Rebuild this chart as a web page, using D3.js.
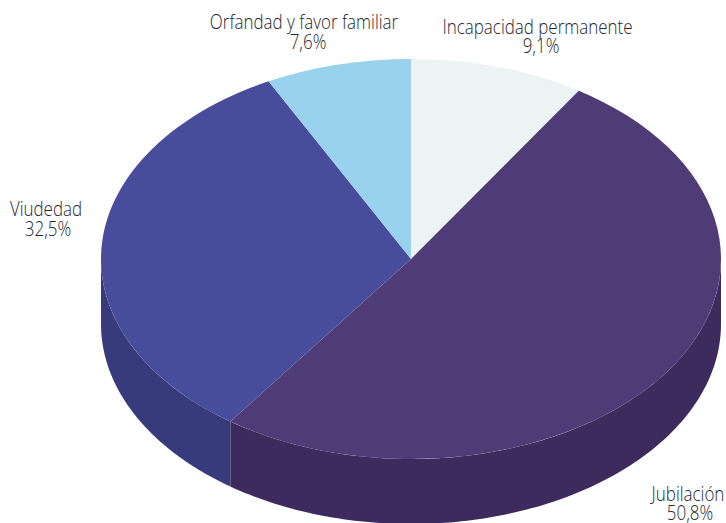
<!DOCTYPE html>
<html><head><meta charset="utf-8">
<script src="https://cdn.jsdelivr.net/npm/d3@7/dist/d3.min.js"></script>
<style>html,body{margin:0;padding:0;background:#fff}svg{display:block}</style>
</head><body><svg id="c" width="726" height="523"></svg>
<script>
const categories = ["Incapacidad permanente","Jubilación","Viudedad","Orfandad y favor familiar"];
const values = [9.1,50.8,32.5,7.6];
const valueLabels = ["9,1%","50,8%","32,5%","7,6%"];
const topColors = ["#edf3f3","#4f3b76","#484d9b","#98d2ec"];
const sideColors = ["#d5dcdc","#3d2b5d","#383b7b","#7fb3cc"];
const nameAnchors = [[537.5,34],[688,501],[46,216],[304,29]];
const valueAnchors = [[541,53],[690,520],[48,236],[308,49]];

const cx=411, cy=259, rx=310, ry=200, depth=65;
const svg=d3.select("#c");
const pie=d3.pie().sort(null).value(d=>d);
const arcs=pie(values);
const px=a=>cx+rx*Math.sin(a), py=a=>cy-ry*Math.cos(a);

const wall=d3.area().x(a=>px(a)).y0(a=>py(a)).y1(a=>py(a)+depth);
arcs.forEach((s,i)=>{
  const a0=Math.max(s.startAngle,Math.PI/2), a1=Math.min(s.endAngle,3*Math.PI/2);
  if(a1<=a0) return;
  const n=120;
  const angles=d3.range(n+1).map(k=>a0+(a1-a0)*k/n);
  svg.append("path").attr("d",wall(angles)).attr("fill",sideColors[i]);
});

const arcGen=d3.arc().innerRadius(0).outerRadius(rx);
svg.append("g").attr("transform",`translate(${cx},${cy}) scale(1,${ry/rx})`)
  .selectAll("path").data(arcs).join("path")
  .attr("d",arcGen).attr("fill",(d,i)=>topColors[i]);

const t=svg.append("g").attr("font-family","'Open Sans',sans-serif").attr("font-size",19.5)
  .attr("font-weight",300).attr("fill","#26262e").attr("text-anchor","middle");
categories.forEach((c,i)=>{
  const [x,y]=nameAnchors[i], [vx,vy]=valueAnchors[i];
  t.append("text").attr("transform",`translate(${x},${y}) scale(0.87,1)`).text(c);
  t.append("text").attr("transform",`translate(${vx},${vy}) scale(0.87,1)`).text(valueLabels[i]);
});
</script></body></html>
